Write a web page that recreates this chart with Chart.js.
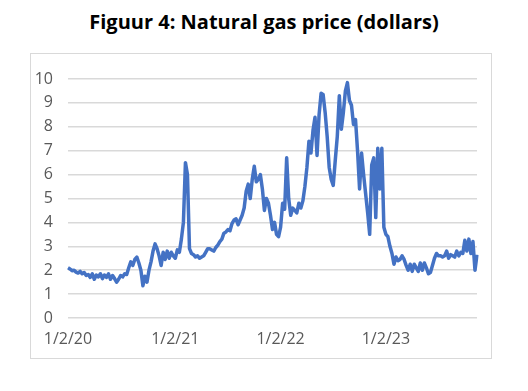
<!DOCTYPE html>
<html>
<head>
<meta charset="utf-8">
<script src="https://cdn.jsdelivr.net/npm/chart.js@4.4.1/dist/chart.umd.min.js"></script>
<style>
  body { margin: 0; background: #fff; width: 528px; height: 391px; position: relative; overflow: hidden; }
  #titel {
    position: absolute; left: 0; top: 8px; width: 528px; text-align: center;
    font: bold 20px "Open Sans", sans-serif; color: #000;
  }
  #kader {
    position: absolute; left: 30px; top: 53px; width: 460px; height: 304px;
    border: 1px solid #d9d9d9;
  }
</style>
</head>
<body>
<div id="titel">Figuur 4: Natural gas price (dollars)</div>
<div id="kader"><canvas id="grafiek" width="460" height="304"></canvas></div>
<script>
// wekelijkse prijzen vanaf 2 januari 2020
const startDatum = new Date(2020, 0, 2);
const prijzen = [
  2.1, 2.05, 1.98, 2.0, 1.92, 1.88, 1.95, 1.85, 1.9, 1.78,
  1.82, 1.7, 1.85, 1.62, 1.8, 1.72, 1.85, 1.65, 1.8, 1.7,
  1.85, 1.62, 1.78, 1.65, 1.5, 1.62, 1.78, 1.72, 1.85, 1.82,
  2.1, 2.35, 2.2, 2.45, 2.55, 2.3, 2.0, 1.35, 1.75, 1.5,
  2.0, 2.35, 2.8, 3.1, 2.9, 2.6, 2.2, 2.75, 2.45, 2.8,
  2.5, 2.75, 2.6, 2.5, 2.85, 2.75, 3.3, 4.0, 6.5, 6.0,
  2.9, 2.7, 2.65, 2.55, 2.6, 2.5, 2.55, 2.6, 2.75, 2.9,
  2.9, 2.85, 2.8, 2.95, 3.05, 3.2, 3.3, 3.55, 3.6, 3.7,
  3.65, 3.95, 4.1, 4.15, 3.9, 4.1, 4.3, 4.6, 5.3, 5.6,
  5.0, 5.8, 6.35, 5.7, 5.8, 6.0, 5.4, 4.5, 5.0, 4.8,
  4.3, 3.7, 4.0, 3.5, 3.4, 3.8, 4.8, 4.55, 6.7, 5.0,
  4.3, 4.6, 4.5, 4.4, 4.8, 4.6, 4.9, 5.5, 6.3, 7.4,
  6.9, 7.85, 8.4, 6.8, 8.5, 9.4, 9.35, 8.6, 7.6, 6.3,
  5.8, 5.55, 6.6, 7.6, 9.3, 7.9, 8.6, 9.5, 9.85, 9.1,
  8.9, 8.1, 8.3, 7.0, 5.4, 6.9, 6.0, 5.2, 4.4, 3.5,
  6.4, 6.7, 4.2, 7.1, 5.4, 7.1, 3.8, 3.5, 3.4, 3.0,
  2.7, 2.25, 2.55, 2.4, 2.45, 2.6, 2.45, 2.2, 2.0, 2.25,
  1.95, 2.25, 2.1, 1.95, 2.3, 2.0, 2.3, 2.1, 1.85, 1.9,
  2.2, 2.5, 2.7, 2.6, 2.6, 2.55, 2.6, 2.8, 2.5, 2.65,
  2.6, 2.55, 2.8, 2.6, 2.75, 2.7, 3.25, 2.8, 3.3, 2.7,
  3.2, 2.0, 2.65
];
const yTicks = [0, 1, 2, 3, 4, 5, 6, 7, 8, 9, 10];

// datums per week
const datums = prijzen.map((p, i) => {
  const d = new Date(startDatum);
  d.setDate(d.getDate() + 7 * i);
  return d;
});
const labels = datums.map(d => (d.getMonth() + 1) + '/' + d.getDate() + '/' + String(d.getFullYear()).slice(2));

// aslabel alleen bij het begin van elk jaar
const tickLabels = datums.map((d, i) =>
  (i === 0 || d.getFullYear() !== datums[i - 1].getFullYear()) ? '1/2/' + String(d.getFullYear()).slice(2) : null);

const data = {
  labels: labels,
  datasets: [{
    label: 'Natural gas price',
    data: prijzen,
    borderColor: '#4472C4',
    backgroundColor: '#4472C4',
    borderWidth: 3.5,
    pointRadius: 0,
    tension: 0,
    borderJoinStyle: 'round'
  }]
};

const config = {
  type: 'line',
  data: data,
  options: {
    responsive: false,
    animation: false,
    layout: { padding: { left: 0, right: 14, top: 25, bottom: 0 } },
    plugins: {
      legend: { display: false },
      title: { display: false },
      tooltip: { enabled: false }
    },
    scales: {
      x: {
        grid: { display: false, drawTicks: false },
        border: { display: false },
        afterFit: s => { s.height = 40; },
        ticks: {
          autoSkip: false,
          maxRotation: 0,
          padding: 12,
          color: '#595959',
          font: { family: 'Open Sans', size: 16 },
          callback: (v, i) => tickLabels[i]
        }
      },
      y: {
        min: 0,
        max: 10,
        afterFit: s => { s.width = 37; },
        afterBuildTicks: s => { s.ticks = yTicks.map(v => ({ value: v })); },
        grid: { color: '#d9d9d9', lineWidth: 1.5, drawTicks: false },
        border: { display: false },
        ticks: {
          padding: 15,
          color: '#595959',
          font: { family: 'Open Sans', size: 16 }
        }
      }
    }
  }
};

const ctx = document.getElementById('grafiek').getContext('2d');
new Chart(ctx, config);
</script>
</body>
</html>
